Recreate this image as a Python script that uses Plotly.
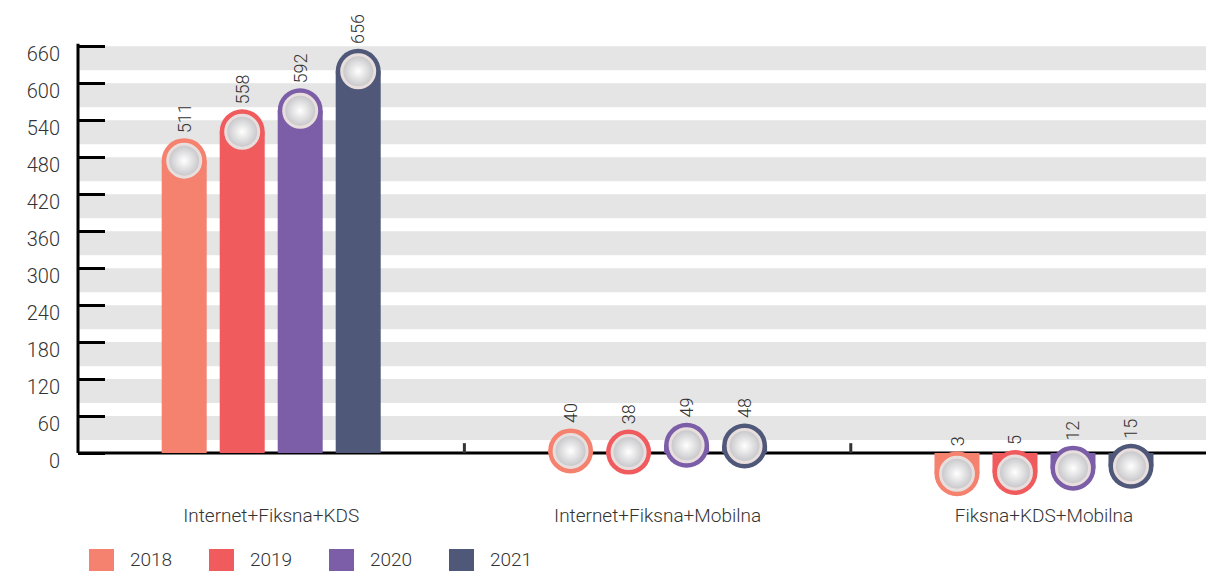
import plotly.graph_objects as go

# ---------------- data ----------------
categories = ["Internet+Fiksna+KDS", "Internet+Fiksna+Mobilna", "Fiksna+KDS+Mobilna"]
years = ["2018", "2019", "2020", "2021"]
values_2018 = [511, 40, 3]
values_2019 = [558, 38, 5]
values_2020 = [592, 49, 12]
values_2021 = [656, 48, 15]
y_ticks = [0, 60, 120, 180, 240, 300, 360, 420, 480, 540, 600, 660]

series = [values_2018, values_2019, values_2020, values_2021]
colors = ["#F4826E", "#F05B5D", "#7B5EA7", "#505879"]

# ---------------- geometry (page pixels) ----------------
PAGE_W, PAGE_H = 1214, 571
OFF = 8                      # default body margin of the html page
W, H = PAGE_W - OFF, PAGE_H - OFF
PLOT_L, PLOT_R, PLOT_T, PLOT_B = 78, 1214, 34, 490   # page coords
ML, MR, MT, MB = PLOT_L - OFF, PAGE_W - PLOT_R, PLOT_T - OFF, PAGE_H - PLOT_B
XR = [-0.5, 2.44]
YR = [-60, 680]
plot_w = PLOT_R - PLOT_L
plot_h = PLOT_B - PLOT_T
px_per_x = plot_w / (XR[1] - XR[0])
px_per_y = plot_h / (YR[1] - YR[0])

bar_px = 45
pitch_px = 58
bw = bar_px / px_per_x
pitch = pitch_px / px_per_x
R = (bar_px / 2) / px_per_y   # cap radius in data units

def px_to_paper_x(px):
    return (px - PLOT_L) / plot_w

def px_to_paper_y(py):
    return (PLOT_B - py) / plot_h

fig = go.Figure()

label_annots = []
for k, (yr, vals, col) in enumerate(zip(years, series, colors)):
    off = (k - 1.5) * pitch
    xs = [i + off for i in range(len(categories))]
    centers = [v - R for v in vals]
    fig.add_trace(go.Bar(
        x=xs, y=centers, base=0, width=bw, marker=dict(color=col, line=dict(width=0)),
        name=yr, showlegend=False, hoverinfo="skip"))
    fig.add_trace(go.Scatter(
        x=xs, y=centers, mode="markers", cliponaxis=False, showlegend=False, hoverinfo="skip",
        marker=dict(size=bar_px, color=col, line=dict(width=0))))
    fig.add_trace(go.Scatter(
        x=xs, y=centers, mode="markers", cliponaxis=False, showlegend=False, hoverinfo="skip",
        marker=dict(size=33, color="#c4c4c7",
                    gradient=dict(type="radial", color="#ffffff"),
                    line=dict(width=3, color="#e8dede"))))
    for x, v in zip(xs, vals):
        label_annots.append(dict(
            x=x, y=v, text=str(v), textangle=-90, showarrow=False,
            xanchor="center", yanchor="bottom", yshift=3,
            font=dict(family="Roboto", size=18, color="#333333", weight=300)))

shapes = []
# grey bands
for v in y_ticks[1:]:
    shapes.append(dict(type="rect", xref="paper", yref="y", x0=0, x1=1, y0=v - 39, y1=v,
                       fillcolor="#e5e5e5", line=dict(width=0), layer="below"))
# baseline
shapes.append(dict(type="line", xref="paper", yref="y", x0=0, x1=1, y0=0, y1=0,
                   line=dict(color="#000000", width=3), layer="below"))
# y axis line
shapes.append(dict(type="line", xref="paper", yref="y", x0=0, x1=0, y0=0, y1=664,
                   line=dict(color="#000000", width=3), layer="above"))
# category dividers
for d in [0.5, 1.5]:
    shapes.append(dict(type="line", xref="x", yref="y", x0=d, x1=d, y0=0, y1=16,
                       line=dict(color="#333333", width=3), layer="below"))

# manual legend
legend_annots = []
for k, (yr, col) in enumerate(zip(years, colors)):
    x0 = 89 + k * 120
    shapes.append(dict(type="rect", xref="paper", yref="paper",
                       x0=px_to_paper_x(x0), x1=px_to_paper_x(x0 + 25),
                       y0=px_to_paper_y(576), y1=px_to_paper_y(549),
                       fillcolor=col, line=dict(width=0)))
    legend_annots.append(dict(xref="paper", yref="paper",
                              x=px_to_paper_x(x0 + 39), y=px_to_paper_y(559),
                              text=yr, showarrow=False, xanchor="left", yanchor="middle",
                              font=dict(family="Roboto", size=19, color="#333333", weight=300)))

fig.update_layout(
    width=W, height=H,
    margin=dict(l=ML, r=MR, t=MT, b=MB, pad=0),
    plot_bgcolor="white", paper_bgcolor="white",
    barmode="overlay",
    shapes=shapes,
    annotations=label_annots + legend_annots,
    xaxis=dict(range=XR, tickvals=list(range(len(categories))), ticktext=categories,
               showgrid=False, zeroline=False, showline=False, ticks="",
               tickfont=dict(family="Roboto", size=19, color="#333333", weight=300),
               ticklabelstandoff=12),
    yaxis=dict(range=YR, tickvals=y_ticks, showgrid=False, zeroline=False, showline=False,
               ticks="inside", ticklen=27, tickwidth=3, tickcolor="#000000",
               tickfont=dict(family="Roboto", size=20, color="#333333", weight=300),
               ticklabelshift=8, ticklabelstandoff=17),
)

fig.write_html("out.html")
